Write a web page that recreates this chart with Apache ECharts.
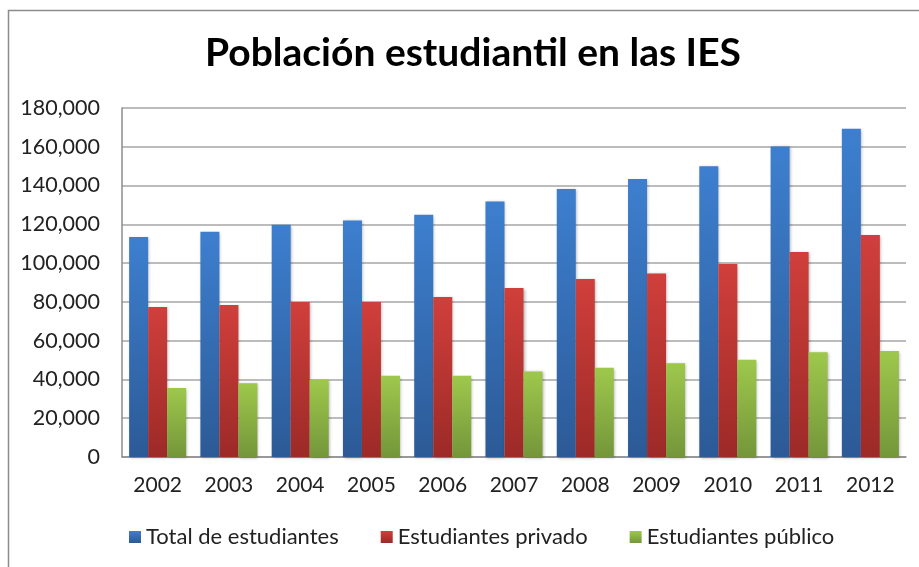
<!DOCTYPE html>
<html lang="es">
  <head>
    <meta charset="UTF-8" />
    <title>Población estudiantil en las IES</title>
    <script src="https://cdn.jsdelivr.net/npm/echarts@6/dist/echarts.min.js"></script>
    <style>
      html, body { margin: 0; padding: 0; background: #fff; }
      #main { width: 919px; height: 567px; }
    </style>
  </head>
  <body>
    <div id="main"></div>
    <script>
      var years = ["2002", "2003", "2004", "2005", "2006", "2007", "2008", "2009", "2010", "2011", "2012"];
      var total = [113500, 116200, 119800, 122000, 125000, 131800, 138200, 143400, 149900, 160200, 169300];
      var privado = [77400, 78400, 80000, 80000, 82500, 87200, 91800, 94700, 99500, 105700, 114500];
      var publico = [35600, 38000, 39700, 41900, 41900, 44100, 46000, 48300, 50200, 54000, 54700];
      var seriesNames = ["Total de estudiantes", "Estudiantes privado", "Estudiantes público"];

      function grad(top, bottom) {
        return new echarts.graphic.LinearGradient(0, 0, 0, 1, [
          { offset: 0, color: top },
          { offset: 1, color: bottom }
        ]);
      }

      var font = "Lato, 'Open Sans', sans-serif";
      var myChart = echarts.init(document.getElementById("main"));

      var shadow = {
        shadowColor: "rgba(0,0,0,0.3)",
        shadowBlur: 3,
        shadowOffsetX: 1,
        shadowOffsetY: 1
      };

      var option = {
        animation: false,
        textStyle: { fontFamily: font },
        graphic: [
          {
            type: "rect",
            shape: { x: 8.5, y: 10.5, width: 1000, height: 1000 },
            style: { fill: "none", stroke: "#8c8c8c", lineWidth: 1.5 },
            silent: true
          }
        ],
        title: {
          text: "Población estudiantil en las IES",
          left: 468,
          textAlign: "center",
          top: 29,
          textStyle: { fontFamily: font, fontSize: 39, fontWeight: "bold", color: "#000" }
        },
        legend: {
          bottom: 14,
          left: 124,
          itemWidth: 12,
          itemHeight: 12,
          itemGap: 42,
          icon: "rect",
          textStyle: { fontFamily: font, fontSize: 22, color: "#222" },
          data: seriesNames
        },
        grid: { left: 122, right: 13, top: 108, bottom: 110 },
        xAxis: {
          type: "category",
          data: years,
          axisLine: { lineStyle: { color: "#8c8c8c", width: 1.5 } },
          axisTick: { show: false },
          axisLabel: { fontFamily: font, fontSize: 21, color: "#222", margin: 18 }
        },
        yAxis: {
          type: "value",
          min: 0,
          max: 180000,
          interval: 20000,
          axisLine: { show: true, lineStyle: { color: "#8c8c8c", width: 1.5 } },
          axisTick: { show: false },
          splitLine: { lineStyle: { color: "#a6a6a6", width: 1.5 } },
          axisLabel: {
            fontFamily: font,
            fontSize: 21.5,
            color: "#222",
            margin: 22,
            formatter: function (v) { return v.toLocaleString("en-US"); }
          }
        },
        series: [
          {
            name: seriesNames[0],
            type: "bar",
            data: total,
            barGap: "0%",
            barCategoryGap: "20%",
            itemStyle: Object.assign({ color: grad("#3d7fcf", "#2c5a96") }, shadow)
          },
          {
            name: seriesNames[1],
            type: "bar",
            data: privado,
            itemStyle: Object.assign({ color: grad("#d03f3b", "#9c2a27") }, shadow)
          },
          {
            name: seriesNames[2],
            type: "bar",
            data: publico,
            itemStyle: Object.assign({ color: grad("#9ec84c", "#74963a") }, shadow)
          }
        ]
      };

      myChart.setOption(option);
    </script>
  </body>
</html>
